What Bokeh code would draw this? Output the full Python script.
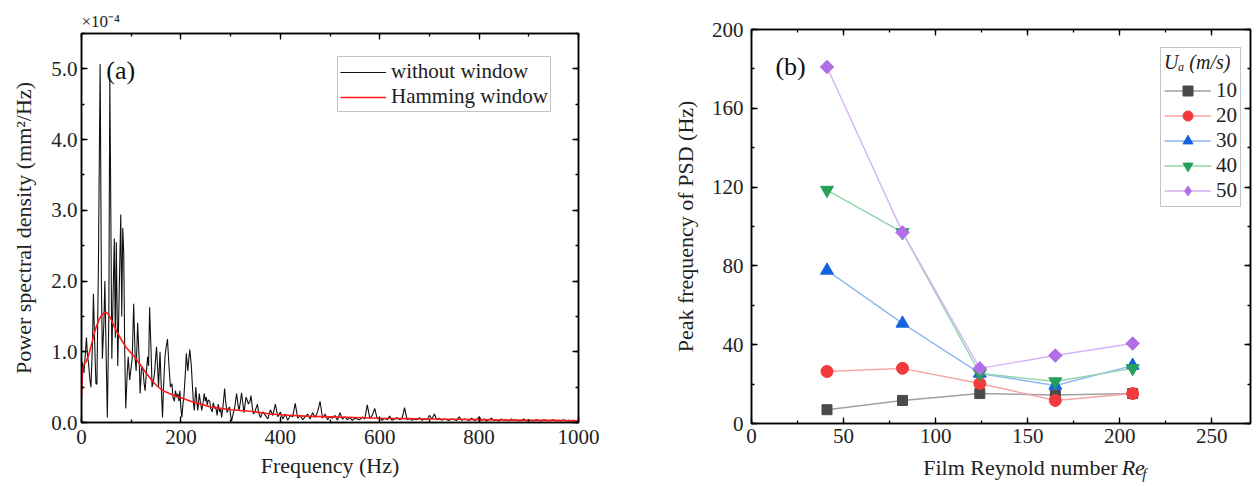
from bokeh.plotting import figure
from bokeh.layouts import row, column
from bokeh.models import (LinearAxis, SingleIntervalTicker, Range1d, Label, Title,
                          Legend, LegendItem, PrintfTickFormatter, CustomLabelingPolicy)
from bokeh.core.properties import value
from bokeh.embed import file_html
from bokeh.resources import INLINE

FONT = "Liberation Serif"

# ---------------- panel (a) data : PSD in units of 1e-4 mm^2/Hz ----------------
freq_low = [0, 2, 5, 8, 10, 12, 14, 17, 19, 22,
            24, 27, 29, 31, 34, 37.5, 40, 42, 45, 47,
            50, 52, 55, 57, 59, 61, 63, 66, 68, 70,
            73, 76, 79, 81, 83, 85, 87, 89, 92, 94,
            97, 99, 102, 105, 108, 110, 113, 116, 118, 121,
            124, 126, 128, 131, 133, 135, 137, 140, 142, 145,
            147, 149, 151, 153, 155, 158, 160, 163, 165, 168,
            170, 173, 176, 179, 182, 184, 187, 189, 192, 194,
            196, 198, 200, 202, 204, 206, 209, 211, 213, 214,
            216, 218, 221, 223, 225, 227, 230, 232, 234, 237,
            239, 242, 245, 247, 249, 251, 253, 255, 258, 260,
            263, 265, 268, 270, 273, 275, 278, 280, 282, 285,
            288, 290, 293, 296, 298, 300, 302, 305, 308, 310,
            312, 315, 317, 320, 322, 325, 327, 329, 331, 334,
            336, 339, 341, 344, 346, 349, 351, 354, 356]
psd_low = [0.3, 0.85, 0.7, 1.0, 1.2, 0.95, 0.85, 0.6, 0.5, 1.1,
           1.82, 1.0, 0.55, 0.54, 2.2, 5.07, 2.0, 0.9, 1.4, 2.0,
           0.8, 0.07, 1.5, 4.85, 3.0, 0.9, 1.6, 2.6, 1.2, 2.55,
           0.8, 1.9, 2.94, 1.5, 2.75, 2.4, 1.0, 0.2, 0.7, 0.93,
           0.6, 0.73, 0.9, 1.68, 0.9, 0.73, 1.41, 0.9, 0.41, 0.8,
           0.73, 0.55, 0.45, 0.75, 0.93, 0.8, 1.63, 1.0, 0.5, 0.6,
           0.7, 0.9, 1.07, 0.8, 0.5, 1.0, 0.6, 0.07, 0.5, 0.93,
           1.05, 1.18, 0.8, 0.5, 0.55, 0.36, 0.3, 0.45, 0.35, 0.41,
           0.3, 0.45, 0.2, 0.07, 0.25, 0.36, 0.7, 0.98, 0.8, 0.73,
           0.9, 1.03, 0.8, 0.54, 0.3, 0.17, 0.5, 0.3, 0.17, 0.41,
           0.3, 0.17, 0.3, 0.41, 0.3, 0.36, 0.25, 0.32, 0.3, 0.2,
           0.15, 0.28, 0.2, 0.22, 0.1, 0.26, 0.15, 0.2, 0.07, 0.25,
           0.48, 0.3, 0.14, 0.2, 0.22, 0.1, 0.02, 0.12, 0.2, 0.3,
           0.41, 0.25, 0.17, 0.3, 0.42, 0.25, 0.14, 0.25, 0.36, 0.3,
           0.26, 0.3, 0.38, 0.2, 0.12, 0.15, 0.2, 0.26, 0.15]
freq_high = list(range(360, 1001, 5))
psd_high = [0.07, 0.15, 0.1, 0.05, 0.18, 0.1, 0.26, 0.08, 0.15, 0.05,
            0.12, 0.03, 0.1, 0.08, 0.27, 0.06, 0.1, 0.04, 0.08, 0.12,
            0.05, 0.14, 0.07, 0.15, 0.3, 0.06, 0.12, 0.04, 0.08, 0.06,
            0.1, 0.03, 0.14, 0.05, 0.08, 0.04, 0.07, 0.03, 0.06, 0.05,
            0.04, 0.08, 0.05, 0.25, 0.06, 0.1, 0.2, 0.05, 0.07, 0.03,
            0.06, 0.04, 0.09, 0.03, 0.05, 0.07, 0.04, 0.06, 0.21, 0.04,
            0.06, 0.03, 0.05, 0.04, 0.07, 0.03, 0.05, 0.04, 0.1, 0.05,
            0.12, 0.04, 0.06, 0.03, 0.05, 0.04, 0.03, 0.05, 0.04, 0.03,
            0.08, 0.03, 0.05, 0.04, 0.03, 0.06, 0.03, 0.04, 0.08, 0.03,
            0.05, 0.02, 0.04, 0.06, 0.03, 0.04, 0.02, 0.05, 0.03, 0.04,
            0.02, 0.05, 0.03, 0.04, 0.02, 0.03, 0.05, 0.02, 0.04, 0.03,
            0.02, 0.04, 0.03, 0.02, 0.04, 0.03, 0.02, 0.03, 0.04, 0.02,
            0.03, 0.02, 0.04, 0.02, 0.03, 0.02, 0.03, 0.02, 0.03]
ham_freq = [0, 2, 4, 7, 10, 15, 20, 25, 30, 35, 40, 45, 50, 55, 60, 65, 70,
            80, 90, 100, 110, 120, 130, 140, 150, 160, 170, 180, 190, 200,
            220, 240, 260, 280, 300, 320, 340, 360, 380, 400, 450, 500, 550,
            600, 650, 700, 750, 800, 850, 900, 950, 1000]
ham_psd = [0.38, 0.7, 0.8, 0.84, 0.87, 0.97, 1.1, 1.24, 1.36, 1.45, 1.51, 1.55,
           1.56, 1.52, 1.45, 1.37, 1.3, 1.17, 1.06, 0.98, 0.9, 0.8, 0.7, 0.61,
           0.53, 0.47, 0.43, 0.4, 0.37, 0.35, 0.3, 0.26, 0.22, 0.2, 0.18, 0.17,
           0.16, 0.14, 0.12, 0.11, 0.09, 0.08, 0.07, 0.06, 0.055, 0.05, 0.045,
           0.04, 0.035, 0.03, 0.03, 0.025]
series_a = ["without window", "Hamming window"]

# ---------------- panel (b) data ----------------
re_f = [41, 82, 124, 165, 207]
ua_labels = ["10", "20", "30", "40", "50"]
peak_10 = [7.0, 11.7, 15.2, 14.5, 15.2]
peak_20 = [26.4, 28.0, 20.3, 11.7, 15.2]
peak_30 = [77.7, 50.8, 25.4, 19.3, 29.4]
peak_40 = [118.5, 97.0, 25.4, 21.3, 28.0]
peak_50 = [181.0, 97.0, 28.0, 34.5, 40.6]

NO_LABELS = "for (const i of indices) { indices.unset(i) }\nreturn indices"


def style_axis(ax, ticker, show_labels=True):
    ax.ticker = ticker
    ax.axis_line_width = 1.5
    ax.axis_line_color = "black"
    ax.major_tick_in = 6
    ax.major_tick_out = 0
    ax.minor_tick_in = 3
    ax.minor_tick_out = 0
    ax.major_tick_line_width = 1.3
    ax.minor_tick_line_width = 1.3
    ax.major_tick_line_color = "black"
    ax.minor_tick_line_color = "black"
    ax.major_label_text_font = FONT
    ax.major_label_text_font_size = "21px"
    ax.major_label_text_color = "#222222"
    ax.axis_label_text_font = FONT
    ax.axis_label_text_font_size = "22px"
    ax.axis_label_text_font_style = "normal"
    ax.axis_label_text_color = "#222222"
    if not show_labels:
        ax.major_label_policy = CustomLabelingPolicy(code=NO_LABELS)
        ax.major_label_text_font_size = "0px"
        ax.major_label_standoff = 0


# ======================= panel (a) =======================
pa = figure(width=648, height=485, output_backend="svg", toolbar_location=None,
            x_range=Range1d(0, 1000), y_range=Range1d(0, 5.5),
            min_border_left=81, min_border_right=70, min_border_top=33,
            min_border_bottom=63)
pa.xgrid.visible = False
pa.ygrid.visible = False
pa.outline_line_color = "black"
pa.outline_line_width = 1.5
pa.background_fill_color = "white"
pa.border_fill_color = "white"

style_axis(pa.xaxis[0], SingleIntervalTicker(interval=200, num_minor_ticks=2))
style_axis(pa.yaxis[0], SingleIntervalTicker(interval=1, num_minor_ticks=2))
pa.xaxis[0].axis_label = "Frequency (Hz)"
pa.yaxis[0].axis_label = "Power spectral density (mm²/Hz)"
pa.yaxis[0].formatter = PrintfTickFormatter(format="%.1f")
pa.xaxis[0].major_label_standoff = 7
pa.xaxis[0].axis_label_standoff = 6
pa.yaxis[0].major_label_standoff = 4
pa.yaxis[0].axis_label_standoff = 12

top_a = LinearAxis()
style_axis(top_a, SingleIntervalTicker(interval=200, num_minor_ticks=2), False)
pa.add_layout(top_a, "above")
right_a = LinearAxis()
style_axis(right_a, SingleIntervalTicker(interval=1, num_minor_ticks=2), False)
pa.add_layout(right_a, "right")

black_f = freq_low + freq_high
black_v = psd_low + psd_high
r_black = pa.line(black_f, black_v, line_color="#111111", line_width=1.1)
r_red = pa.line(ham_freq, ham_psd, line_color="#ff1a1a", line_width=1.6)

leg_a = Legend(items=[LegendItem(label=series_a[0], renderers=[r_black]),
                      LegendItem(label=series_a[1], renderers=[r_red])],
               location=(256, 310))
leg_a.label_text_font = FONT
leg_a.label_text_font_size = "21px"
leg_a.label_text_color = "#222222"
leg_a.glyph_width = 46
leg_a.glyph_height = 24
leg_a.label_height = 24
leg_a.label_standoff = 5
leg_a.spacing = 0
leg_a.padding = 2
leg_a.margin = 0
leg_a.border_line_color = "#8c8c8c"
leg_a.border_line_width = 1
leg_a.background_fill_alpha = 1
pa.add_layout(leg_a, "center")

pa.add_layout(Label(x=50, y=4.97, text="(a)", text_font=FONT, text_font_size="26px",
                    text_baseline="middle", text_align="left", text_color="#111111"))
pa.add_layout(Title(text="×10⁻⁴", align="left", text_font=FONT, text_font_size="17px",
                    text_font_style="normal", text_color="#222222", offset=0,
                    standoff=5), "above")

# ======================= panel (b) =======================
pb = figure(width=608, height=452, output_backend="svg", toolbar_location=None,
            x_range=Range1d(0, 271), y_range=Range1d(0, 200),
            min_border_left=103, min_border_right=6, min_border_top=29,
            min_border_bottom=29)
pb.xgrid.visible = False
pb.ygrid.visible = False
pb.outline_line_color = "black"
pb.outline_line_width = 1.5
pb.background_fill_color = "white"
pb.border_fill_color = "white"

style_axis(pb.xaxis[0], SingleIntervalTicker(interval=50, num_minor_ticks=2))
style_axis(pb.yaxis[0], SingleIntervalTicker(interval=40, num_minor_ticks=2))
pb.yaxis[0].axis_label = "Peak frequency of PSD (Hz)"
pb.xaxis[0].major_label_standoff = 5
pb.yaxis[0].major_label_standoff = 8
pb.yaxis[0].axis_label_standoff = 11

top_b = LinearAxis()
style_axis(top_b, SingleIntervalTicker(interval=50, num_minor_ticks=2), False)
pb.add_layout(top_b, "above")
right_b = LinearAxis()
style_axis(right_b, SingleIntervalTicker(interval=40, num_minor_ticks=2), False)
pb.add_layout(right_b, "right")

series_b = [peak_10, peak_20, peak_30, peak_40, peak_50]
marker_colors = ["#4a4a4a", "#f23a3a", "#1562e0", "#25a05a", "#b26ee6"]
line_colors = ["#a0a0a0", "#f6a3a3", "#90b8f2", "#92d4aa", "#d6b3f4"]
markers = ["square", "circle", "triangle", "inverted_triangle", "square"]
angles = [0, 0, 0, 0, 0.7854]
sizes = [10, 12, 13, 13, 9.5]
legend_markers = ["square", "circle", "triangle", "inverted_triangle", "diamond"]
legend_sizes = [10, 12, 13, 13, 13]

items_b = []
for vals, lab, mc, lc, mk, ang, sz, lmk, lsz in zip(series_b, ua_labels, marker_colors,
                                                    line_colors, markers, angles, sizes,
                                                    legend_markers, legend_sizes):
    rl = pb.line(re_f, vals, line_color=lc, line_width=1.4)
    if lmk != mk:
        # diamond swatch for the legend, hidden underneath the rotated squares
        r_leg = pb.scatter(re_f, vals, marker=lmk, size=lsz, fill_color=mc, line_color=mc)
        pb.scatter(re_f, vals, marker=mk, angle=ang, size=sz, fill_color=mc, line_color=mc)
    else:
        r_leg = pb.scatter(re_f, vals, marker=mk, angle=ang, size=sz,
                           fill_color=mc, line_color=mc)
    items_b.append(LegendItem(label=lab, renderers=[rl, r_leg]))

leg_b = Legend(items=items_b, location=(409, 216))
leg_b.title = "Uₐ (m/s)"
leg_b.title_text_font = FONT
leg_b.title_text_font_size = "20px"
leg_b.title_text_font_style = "italic"
leg_b.title_text_color = "#222222"
leg_b.title_standoff = 4
leg_b.label_text_font = FONT
leg_b.label_text_font_size = "21px"
leg_b.label_text_color = "#222222"
leg_b.glyph_width = 47
leg_b.glyph_height = 25
leg_b.label_height = 25
leg_b.label_standoff = 5
leg_b.spacing = 0
leg_b.padding = 3
leg_b.margin = 0
leg_b.border_line_color = "#8c8c8c"
leg_b.border_line_width = 1
pb.add_layout(leg_b, "center")

pb.add_layout(Label(x=13, y=181, text="(b)", text_font=FONT, text_font_size="26px",
                    text_baseline="middle", text_align="left", text_color="#111111"))

# strip under panel (b) holding the x-axis title with italic Re and subscript f
xtitle_plain = ["Film Reynold number"]
xtitle_italic = ["Re"]
xtitle_sub = ["f"]
plab = figure(width=608, height=33, output_backend="svg", toolbar_location=None,
              x_range=Range1d(0, 608), y_range=Range1d(0, 33),
              min_border=0, x_axis_type=None, y_axis_type=None)
plab.xgrid.visible = False
plab.ygrid.visible = False
plab.outline_line_color = None
plab.background_fill_color = "white"
plab.border_fill_color = "white"
plab.text(x=[446], y=[18], text=xtitle_plain, text_font=value(FONT),
          text_font_size="22px", text_align="right", text_baseline="middle",
          text_color="#222222")
plab.text(x=[451], y=[18], text=xtitle_italic, text_font=value(FONT),
          text_font_size="22px", text_font_style="italic", text_align="left",
          text_baseline="middle", text_color="#222222")
plab.text(x=[476], y=[12], text=xtitle_sub, text_font=value(FONT),
          text_font_size="15px", text_font_style="italic", text_align="left",
          text_baseline="middle", text_color="#222222")

p = row(pa, column(pb, plab))
open("out.html", "w").write(file_html(p, INLINE))
